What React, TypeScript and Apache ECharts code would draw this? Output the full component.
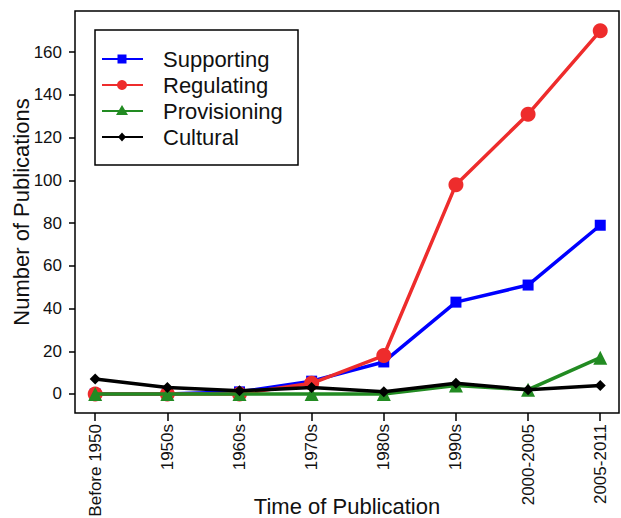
import React, { useEffect, useRef } from "react";
import * as echarts from "echarts";

const categories = ["Before 1950", "1950s", "1960s", "1970s", "1980s", "1990s", "2000-2005", "2005-2011"];
const supporting = [0, 0, 1, 6, 15, 43, 51, 79];
const regulating = [0, 0, 0, 5, 18, 98, 131, 170];
const provisioning = [0, 0, 0, 0, 0, 4, 2, 17];
const cultural = [7, 3, 1.5, 3, 1, 5, 2, 4];
const yTicks = [0, 20, 40, 60, 80, 100, 120, 140, 160];
const seriesNames = ["Supporting", "Regulating", "Provisioning", "Cultural"];

const FONT = "'Liberation Sans', Arial, Helvetica, sans-serif";
const BLUE = "#0000FF";
const RED = "#EE2C2C";
const GREEN = "#228B22";
const BLACK = "#000000";

export default function App() {
  const ref = useRef<HTMLDivElement>(null);
  useEffect(() => {
    if (!ref.current) return;
    const chart = echarts.init(ref.current, undefined, { renderer: "svg" });
    const pts = (arr: number[]) => arr.map((v, i) => [i, v]);
    const mk = (name: string, data: number[], color: string, symbol: string, size: number, z: number) => ({
      name,
      type: "line",
      data: pts(data),
      symbol,
      symbolSize: size,
      showAllSymbol: true,
      z,
      lineStyle: { color, width: 3.5 },
      itemStyle: { color, borderWidth: 0 },
      emphasis: { disabled: true },
    });
    const legendRows = [59, 85, 111, 137];
    const lx0 = 102, lx1 = 143, mx = 122, tx = 163;
    const legendGraphics: any[] = [
      { type: "rect", shape: { x: 95, y: 30, width: 203, height: 135 }, style: { fill: "#fff", stroke: "#000", lineWidth: 1.5 }, z: 100 },
    ];
    const cols = [BLUE, RED, GREEN, BLACK];
    legendRows.forEach((y, i) => {
      legendGraphics.push({ type: "line", shape: { x1: lx0, y1: y, x2: lx1, y2: y }, style: { stroke: cols[i], lineWidth: 2 }, z: 101 });
      legendGraphics.push({
        type: "text",
        x: tx,
        y,
        style: { text: seriesNames[i], fill: "#111", font: `22px ${FONT}`, verticalAlign: "middle", textAlign: "left" },
        z: 101,
      });
    });
    legendGraphics.push({ type: "rect", shape: { x: mx - 4.5, y: legendRows[0] - 4.5, width: 9, height: 9 }, style: { fill: BLUE }, z: 102 });
    legendGraphics.push({ type: "circle", shape: { cx: mx, cy: legendRows[1], r: 5 }, style: { fill: RED }, z: 102 });
    legendGraphics.push({
      type: "polygon",
      shape: { points: [[mx, legendRows[2] - 6], [mx + 6, legendRows[2] + 4], [mx - 6, legendRows[2] + 4]] },
      style: { fill: GREEN },
      z: 102,
    });
    legendGraphics.push({
      type: "polygon",
      shape: { points: [[mx, legendRows[3] - 4.5], [mx + 4, legendRows[3]], [mx, legendRows[3] + 4.5], [mx - 4, legendRows[3]]] },
      style: { fill: BLACK },
      z: 102,
    });

    chart.setOption({
      animation: false,
      backgroundColor: "#fff",
      grid: {
        left: 75, right: 2, top: 11, bottom: 105, show: true, borderColor: "#000", borderWidth: 1.5,
        backgroundColor: "transparent", containLabel: false, outerBoundsMode: "none",
      },
      xAxis: {
        type: "value",
        min: -0.28,
        max: 7.26,
        name: "Time of Publication",
        nameLocation: "middle",
        nameGap: 82,
        nameMoveOverlap: false,
        nameTextStyle: { fontFamily: FONT, fontSize: 22, color: "#111", verticalAlign: "top" },
        axisLine: { show: false, onZero: false },
        splitLine: { show: false },
        axisTick: { show: true, inside: false, length: 8, lineStyle: { color: "#000", width: 1.5 }, customValues: categories.map((_, i) => i) },
        axisLabel: {
          show: true,
          rotate: 90,
          margin: 11,
          fontFamily: FONT,
          fontSize: 17,
          color: "#111",
          customValues: categories.map((_, i) => i),
          formatter: (v: number) => categories[Math.round(v)] ?? "",
        },
      },
      yAxis: {
        type: "value",
        min: -8.9,
        max: 179.3,
        name: "Number of Publications",
        nameLocation: "middle",
        nameGap: 43,
        nameMoveOverlap: false,
        nameTextStyle: { fontFamily: FONT, fontSize: 22, color: "#111" },
        axisLine: { show: false, onZero: false },
        splitLine: { show: false },
        axisTick: { show: true, inside: false, length: 6, lineStyle: { color: "#000", width: 1.5 }, customValues: yTicks },
        axisLabel: { show: true, margin: 13, fontFamily: FONT, fontSize: 17, color: "#111", customValues: yTicks },
      },
      series: [
        mk(seriesNames[0], supporting, BLUE, "rect", 11, 2),
        mk(seriesNames[1], regulating, RED, "circle", 15, 3),
        mk(seriesNames[2], provisioning, GREEN, "triangle", 14, 4),
        mk(seriesNames[3], cultural, BLACK, "diamond", 11, 5),
      ],
      graphic: legendGraphics,
    });
    return () => chart.dispose();
  }, []);
  return <div ref={ref} style={{ width: 621, height: 518, position: "absolute", left: 0, top: 0 }} />;
}
